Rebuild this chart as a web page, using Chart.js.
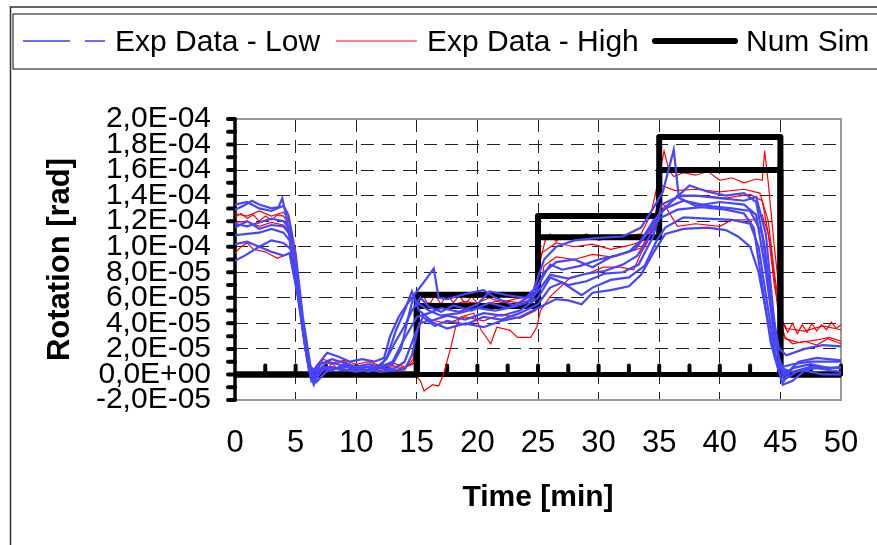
<!DOCTYPE html>
<html>
<head>
<meta charset="utf-8">
<script src="https://cdn.jsdelivr.net/npm/chart.js@4.4.0/dist/chart.umd.min.js"></script>
<style>
  html, body { margin: 0; padding: 0; background: #fff; }
  .wrap { width: 877px; height: 545px; }
</style>
</head>
<body>
<div class="wrap"><canvas class="rotation" width="877" height="545"></canvas></div>
<script>
// time in minutes, rotation in units of 1E-05 rad
const lowA = [[0,12.9],[0.7,13.2],[1.4,13.6],[2,13.3],[3,13.0],[3.6,13.1],[3.9,13.8],[4.2,12.5],[4.8,9.0],[5.4,5.0],[5.9,1.5],[6.3,-0.2],[6.7,0.6],[7.6,1.7],[8.5,1.4],[9.5,1.0],[10.5,1.2],[11.5,1.0],[12.3,1.3],[12.8,3.0],[13.5,4.5],[14.2,5.5],[15,6.5],[15.8,7.5],[16.4,8.3],[16.8,6.0],[17.5,5.9],[19,6.3],[20.5,6.6],[21.5,6.0],[23,5.4],[24.5,6.2],[25.5,9.0],[26.5,10.0],[28,10.5],[30,10.7],[32,10.8],[33.5,11.5],[34.5,13.0],[35.3,14.3],[36.2,17.6],[36.6,14.0],[38,14.0],[40,13.8],[42,13.6],[43,13.9],[43.8,11.0],[44.4,5.0],[44.9,1.0],[45.3,-0.5],[46,0.5],[47.5,0.8],[49,0.5],[50,0.6]]
const lowB = [[0,11.8],[1,11.6],[2,11.9],[3,12.2],[4,12.0],[4.4,11.5],[5,8.0],[5.6,3.5],[6.1,0.3],[6.5,-0.8],[7,0.5],[8,0.3],[9,0.8],[10,0.4],[11,0.6],[12,0.5],[13,0.8],[13.7,2.0],[14.3,4.5],[14.7,6.0],[15.2,5.5],[16,5.0],[17,4.6],[18.5,4.8],[20,5.2],[21.5,5.0],[23,5.3],[24.5,5.8],[25.5,8.0],[26.5,8.8],[28,9.0],[29.5,8.4],[31,9.2],[32.5,9.6],[33.5,10.5],[34.5,12.0],[35.5,13.0],[37,13.6],[39,13.2],[41,13.0],[42.5,12.8],[43.5,11.0],[44.2,6.0],[44.8,1.5],[45.4,0],[46.5,1.0],[48,1.3],[50,1.1]]
const lowC = [[0,10.9],[1,11.0],[2,11.1],[3,11.4],[4,11.1],[4.5,10.5],[5.2,6.5],[5.8,2.5],[6.2,0.3],[6.6,-0.4],[7.5,0.6],[8.5,0.4],[9.5,0.7],[11,0.3],[12,0.5],[13,0.4],[14,1.0],[14.8,3.0],[15.5,4.5],[16.5,3.8],[17.5,4.2],[19,3.9],[20.5,4.5],[22,4.3],[23.5,4.8],[25,5.5],[26,6.8],[27,7.2],[28.6,6.2],[29.5,6.8],[31,7.4],[32.5,7.6],[33.8,8.5],[34.8,10.5],[35.5,11.5],[37,12.3],[39,12.2],[41,12.1],[42.5,11.8],[43.2,10.0],[44,5.0],[44.7,1.0],[45.5,-0.3],[46.5,0.3],[48,0.5],[50,0.2]]
const lowD = [[0,8.9],[0.8,9.3],[2,10.0],[3,9.6],[4,9.3],[4.5,9.5],[5.2,6.0],[5.8,2.0],[6.3,0],[6.7,-0.6],[7.5,0.2],[8.5,0.5],[10,0.2],[11,0.4],[12,0.2],[13,0.3],[14,0.4],[14.6,1.5],[15.2,4.0],[16,4.2],[17.5,3.6],[19,4.0],[20.5,3.7],[22,4.2],[23.5,4.5],[25,5.2],[26.5,5.9],[27.5,5.8],[28.6,5.5],[29.5,6.4],[31,6.6],[32.5,6.9],[33.5,7.8],[34.5,9.5],[35.5,11.0],[37,11.4],[39,11.5],[40.5,11.3],[41.5,10.8],[42.5,10.0],[43.2,8.0],[43.8,5.0],[44.5,1.5],[45.2,-0.8],[46,-0.5],[47,0.3],[48.5,0],[50,0]]
const lowE = [[0,13.3],[1,13.5],[2,13.0],[3,12.8],[4,13.2],[4.4,12.5],[5,9.5],[5.6,4.5],[6.2,0.8],[6.5,-0.3],[7,0.8],[8,1.2],[9,0.9],[10,0.6],[11,0.8],[12,0.6],[13,1.0],[13.8,2.5],[14.4,3.5],[15,4.5],[16,4.8],[17,5.2],[18.5,4.9],[20,5.5],[21,6.5],[22.5,6.2],[24,6.0],[25,7.0],[26,8.6],[27,8.2],[28.5,8.5],[30,9.0],[31.5,9.3],[33,9.8],[34,11.0],[35,12.5],[36,13.5],[37.5,14.8],[39,14.3],[40.5,14.0],[42,14.2],[43,13.5],[43.7,10.0],[44.3,5.0],[44.9,2.0],[45.5,1.5],[47,2.0],[48.5,2.3],[50,2.2]]
const lowF = [[0,11.5],[1,12.0],[2,11.4],[3,11.7],[4,11.6],[4.5,11.0],[5.1,7.5],[5.7,3.0],[6.2,0.5],[6.8,0.2],[7.6,1.0],[8.5,0.8],[9.5,0.5],[10.5,0.7],[11.5,0.4],[12.5,1.2],[13.2,2.5],[14,3.8],[14.6,5.0],[15.3,6.0],[16,5.3],[17,4.9],[18,5.4],[19.5,5.0],[21,5.6],[22.5,5.2],[24,5.6],[25,6.5],[26,7.8],[27.5,7.5],[29,7.9],[30.5,8.1],[32,8.6],[33.2,9.3],[34.2,10.8],[35,12.2],[36.5,12.9],[38.5,13.1],[40.5,12.9],[42,12.6],[42.8,11.5],[43.5,7.0],[44.2,2.5],[44.8,0.5],[46,0.8],[47.5,1.0],[50,1.0]]
const lowG = [[0,10.2],[1,10.4],[2,10.0],[3,10.5],[4,10.3],[4.6,9.8],[5.3,5.5],[5.9,1.5],[6.3,-0.5],[7,0.4],[8,0.6],[9,0.3],[10,0.5],[11,0.2],[12,0.6],[12.6,1.5],[13.3,3.5],[14,5.0],[14.6,6.5],[15.2,5.0],[16.2,4.2],[17.5,4.6],[19,4.3],[20.5,4.8],[22,4.6],[23.5,5.0],[25,6.0],[26,7.6],[27.5,7.0],[29,7.3],[30.5,7.9],[32,8.0],[33.3,8.6],[34.5,10.8],[35.2,13.3],[36.5,13.9],[38,13.2],[40,13.5],[42,13.3],[43,12.5],[43.8,8.0],[44.5,3.0],[45,0.5],[46,0.2],[47.5,0.6],[50,0.5]]

const highA = [[0,12.3],[0.5,12.6],[1,12.2],[1.5,12.5],[2,12.0],[2.5,12.4],[3,12.1],[3.5,12.5],[4,12.4],[4.3,12.0],[4.8,9.5],[5.2,7.0],[5.6,4.0],[6.1,0.5],[6.5,-0.3],[7,0.8],[7.5,0.2],[8,0.9],[8.5,0.4],[9,0.8],[10,0.3],[11,0.6],[12,0.3],[13,0.6],[14,0.4],[14.7,1.2],[15.1,5.5],[15.5,6.2],[16,5.4],[16.5,6.2],[17,5.5],[17.5,6.3],[18,5.6],[18.5,6.2],[19,5.5],[19.5,6.1],[20,5.6],[21,6.0],[22,5.6],[23,5.9],[24.5,6.1],[25.2,9.0],[25.6,10.5],[26,11.0],[26.5,10.4],[27,10.9],[28,10.6],[29,11.0],[30,10.5],[31,10.7],[32,10.8],[33.5,11.0],[34.3,12.5],[35,15.5],[35.4,17.5],[35.8,16.0],[36.2,15.5],[37,15.8],[38,15.6],[39,15.9],[40,15.2],[41,15.4],[42,15.0],[43,15.3],[43.5,15.2],[43.7,17.5],[44,15.0],[44.5,10.0],[45.2,4.0],[45.6,3.3],[46,4.0],[46.4,3.2],[46.8,3.9],[47.2,3.3],[47.6,4.0],[48,3.4],[48.4,3.9],[48.8,3.5],[49.2,4.1],[49.6,3.6],[50,3.9]]
const highB = [[0,9.5],[0.5,10.0],[1,10.3],[1.5,9.8],[2.5,9.6],[3.5,9.1],[4,9.3],[4.5,9.5],[5.2,6.0],[6,1.5],[6.4,-0.5],[7,0.3],[8,0.6],[9,0.2],[10,0],[11,-0.2],[12,0],[13,0],[14,0],[14.8,0],[15.3,-0.5],[15.6,-1.3],[16.3,-0.8],[16.8,-0.9],[17.2,0],[17.8,2.1],[18.2,3.7],[18.6,4.5],[19.7,4.8],[20.3,3.5],[21.1,2.4],[21.6,3.7],[22.7,3.45],[23.3,2.9],[24.4,2.9],[24.9,3.7],[25.2,5.0],[26,6.1],[27.7,7.6],[29.1,7.9],[30.4,8.4],[31.8,8.4],[32.9,8.2],[33.5,9.5],[34,10.3],[34.6,12.1],[35.1,13.4],[35.5,13.2],[36.5,11.6],[38,11.8],[40,11.6],[41,12.1],[42.8,12.1],[43.5,12.5],[44,11.0],[44.5,7.0],[45.3,3.0],[46,2.4],[47,2.6],[48,2.3],[48.9,2.8],[50,2.4]]
const highC = [[0,11.9],[1,12.0],[2,11.6],[3,11.9],[4,11.7],[4.5,11.2],[5.2,7.0],[5.8,2.5],[6.3,0.2],[7,1.0],[8,0.8],[9,1.0],[10,0.6],[11,0.8],[12,0.5],[13,0.7],[14,0.5],[14.8,1.0],[15.3,4.0],[16,4.3],[17.5,4.0],[19,4.5],[20.5,4.2],[22,4.7],[23.5,4.4],[24.8,5.0],[25.5,8.5],[26.5,9.2],[28,9.0],[29.5,9.4],[31,9.2],[32.5,9.6],[33.5,9.9],[34.5,11.5],[35.3,13.0],[36.5,13.9],[38.5,14.0],[40.5,13.8],[42.5,14.1],[43.5,13.6],[44.2,10.0],[44.8,5.0],[45.4,2.8],[46.5,2.5],[48,2.7],[49,2.9],[50,2.6]]
const highD = [[0,12.6],[1,12.4],[2,12.8],[3,12.4],[4,12.7],[4.4,12.2],[5,9.0],[5.6,4.0],[6.1,0.8],[6.6,0.3],[7.3,1.2],[8,0.9],[9,1.1],[10,0.8],[11,1.0],[12,0.7],[13,0.9],[14,0.6],[14.7,0.8],[15.2,5.2],[16,5.6],[17.5,5.4],[19,5.7],[20.5,5.5],[22,5.8],[23.5,5.6],[24.7,5.9],[25.3,9.5],[26.5,10.3],[28,10.0],[29.5,10.2],[31,9.8],[32.5,10.1],[33.8,10.5],[34.6,12.3],[35.2,14.8],[36.3,14.4],[38,14.5],[40,14.3],[42,14.5],[43.3,14.2],[44,12.0],[44.5,8.0],[45,4.5],[45.5,3.6],[47,3.4],[48.5,3.8],[50,3.5]]

const simUpper = [[0,0],[15,0],[15,6.25],[25,6.25],[25,12.4],[35,12.4],[35,18.6],[45,18.6],[45,0],[50,0]]
const simLower = [[0,0],[15,0],[15,5.35],[25,5.35],[25,10.75],[35,10.75],[35,16.0],[45,16.0],[45,0],[50,0]]

const lowSeries = [lowA, lowB, lowC, lowD, lowE, lowF, lowG]
const highSeries = [highA, highB, highC, highD]
const simSeries = [simUpper, simLower]
const legendLabels = ["Exp Data - Low", "Exp Data - High", "Num Sim"]

const yMin = -2, yMax = 20, yStep = 2
const xMin = 0, xMax = 50, xStep = 5
const SCALE = 1e-5

const toPoints = (s) => s.map(p => ({ x: p[0], y: p[1] * SCALE }))

const fmtExp = (v) => {
    const r = Math.round(v * 1e7) / 1e7
    const [m, e] = r.toExponential(1).split("e")
    const n = parseInt(e, 10)
    return m.replace(".", ",") + "E" + (n < 0 ? "-" : "+") + String(Math.abs(n)).padStart(2, "0")
}

const LOW_COLOR = "#4646ff"
const HIGH_COLOR = "#ff0000"

const datasets = []
highSeries.forEach(s => datasets.push({
    label: legendLabels[1], data: toPoints(s), borderColor: HIGH_COLOR, borderWidth: 1.2, order: 3
}))
lowSeries.forEach(s => datasets.push({
    label: legendLabels[0], data: toPoints(s), borderColor: LOW_COLOR, borderWidth: 2.2, order: 1
}))
simSeries.forEach(s => datasets.push({
    label: legendLabels[2], data: toPoints(s), borderColor: "#000", borderWidth: 6,
    borderCapStyle: "round", borderJoinStyle: "round", order: 2
}))
datasets.forEach(d => { d.pointRadius = 0; d.tension = 0; d.fill = false })

// axes drawn Excel style: y axis on the left, x axis crossing at zero
const frame = {
    id: "frame",
    beforeDatasetsDraw(chart) {
        const { ctx, chartArea: a, scales: { x, y } } = chart
        ctx.save()
        ctx.strokeStyle = "#9a9a9a"
        ctx.lineWidth = 2
        ctx.beginPath()
        ctx.moveTo(a.left, a.top); ctx.lineTo(a.right, a.top)
        ctx.lineTo(a.right, a.bottom); ctx.lineTo(a.left, a.bottom)
        ctx.stroke()

        ctx.strokeStyle = "#000"
        ctx.lineWidth = 3.5
        ctx.beginPath(); ctx.moveTo(a.left, a.top); ctx.lineTo(a.left, a.bottom); ctx.stroke()
        ctx.lineCap = "round"
        ctx.lineWidth = 4
        for (let v = yMin; v <= yMax; v++) {
            const py = y.getPixelForValue(v * SCALE)
            ctx.beginPath(); ctx.moveTo(a.left - 7, py); ctx.lineTo(a.left, py); ctx.stroke()
        }

        const y0 = y.getPixelForValue(0)
        ctx.lineCap = "butt"
        ctx.lineWidth = 5
        ctx.beginPath(); ctx.moveTo(a.left, y0); ctx.lineTo(a.right, y0); ctx.stroke()
        ctx.lineCap = "round"
        ctx.lineWidth = 4
        for (let t = xMin + xStep / 2; t <= xMax; t += xStep / 2) {
            const px = x.getPixelForValue(t)
            ctx.beginPath(); ctx.moveTo(px, y0 - 9); ctx.lineTo(px, y0); ctx.stroke()
        }
        ctx.restore()
    },
    afterDraw(chart) {
        const { ctx } = chart
        ctx.save()
        ctx.strokeStyle = "#333"
        ctx.lineWidth = 1.5
        ctx.beginPath(); ctx.moveTo(10.5, 545); ctx.lineTo(10.5, 7); ctx.lineTo(877, 7); ctx.stroke()
        ctx.lineWidth = 1.2
        ctx.strokeRect(13, 14, 880, 55)

        const ly = 41
        ctx.lineWidth = 2
        ctx.strokeStyle = "#6a6aff"
        ctx.setLineDash([47, 15])
        ctx.beginPath(); ctx.moveTo(23, ly); ctx.lineTo(105, ly); ctx.stroke()
        ctx.setLineDash([])
        ctx.strokeStyle = "#ff5a5a"
        ctx.lineWidth = 1.5
        ctx.beginPath(); ctx.moveTo(336, ly); ctx.lineTo(417, ly); ctx.stroke()
        ctx.strokeStyle = "#000"
        ctx.lineWidth = 6
        ctx.lineCap = "round"
        ctx.beginPath(); ctx.moveTo(655, ly); ctx.lineTo(735, ly); ctx.stroke()

        ctx.fillStyle = "#000"
        ctx.font = "30px 'Liberation Sans', Arial, sans-serif"
        ctx.textBaseline = "alphabetic"
        ctx.fillText(legendLabels[0], 115, 51)
        ctx.fillText(legendLabels[1], 427, 51)
        ctx.fillText(legendLabels[2], 746, 51)
        ctx.restore()
    }
}

Chart.defaults.font.family = "'Liberation Sans', Arial, sans-serif"
Chart.defaults.color = "#000"

const rotation = document.querySelector(".rotation")

const config = {
    type: "line",
    data: { datasets: datasets },
    options: {
        responsive: false,
        animation: false,
        layout: { padding: { top: 119, right: 36, left: 0, bottom: 0 } },
        plugins: { legend: { display: false }, tooltip: { enabled: false } },
        scales: {
            x: {
                type: "linear", min: xMin, max: xMax,
                ticks: { stepSize: xStep, padding: 1, font: { size: 31 }, maxRotation: 0, autoSkip: false },
                grid: {
                    drawTicks: true, tickLength: 24, tickColor: "rgba(0,0,0,0)", lineWidth: 1,
                    color: (c) => (c.tick && (c.tick.value === xMin || c.tick.value === xMax)) ? "rgba(0,0,0,0)" : "#222"
                },
                border: { display: false, dash: [13, 8] },
                title: { display: true, text: "Time [min]", font: { size: 30, weight: "bold" }, padding: { top: 0, bottom: 29 } },
                afterFit: (s) => { s.height = 145 }
            },
            y: {
                min: yMin * SCALE, max: yMax * SCALE,
                ticks: { stepSize: yStep * SCALE, padding: 24, font: { size: 30 }, autoSkip: false, callback: (v) => fmtExp(v) },
                grid: {
                    drawTicks: false, lineWidth: 1,
                    color: (c) => {
                        if (!c.tick) return "#222"
                        const v = Math.round(c.tick.value / SCALE)
                        return (v === yMin || v === yMax || v === 0) ? "rgba(0,0,0,0)" : "#222"
                    }
                },
                border: { display: false, dash: [13, 8] },
                title: { display: true, text: "Rotation [rad]", font: { size: 31, weight: "bold" }, padding: { top: 42, bottom: 0 } },
                afterFit: (s) => { s.width = 235 }
            }
        }
    },
    plugins: [frame]
}

const rotationChart = new Chart(rotation, config)
</script>
</body>
</html>
